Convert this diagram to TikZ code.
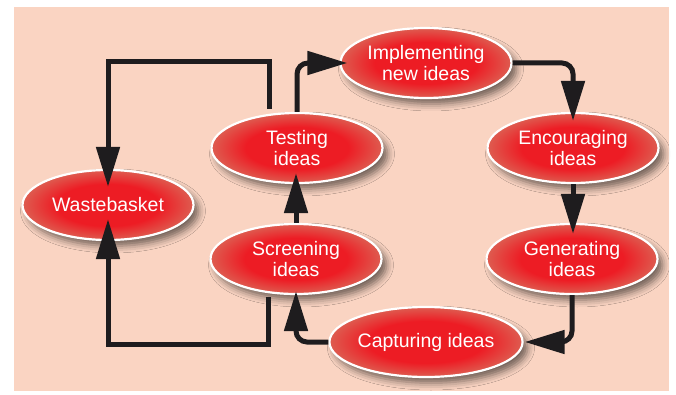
\documentclass[tikz,border=0pt]{standalone}
\usepackage{fontspec}
\setmainfont{Liberation Sans}
\usetikzlibrary{arrows.meta,shapes.geometric,shadows.blur}
\definecolor{peach}{RGB}{250,212,194}
\definecolor{ideared}{RGB}{237,28,36}
\definecolor{idearim}{RGB}{222,92,80}
\pgfdeclareradialshading{redglow}{\pgfpoint{0bp}{0bp}}{%
  color(0bp)=(ideared); color(15bp)=(ideared); color(25bp)=(idearim); color(50bp)=(idearim)}
\tikzset{
  idea/.style={ellipse, minimum width=171pt, minimum height=70pt, inner sep=0pt,
    shade, shading=redglow, draw=white, line width=2.2pt,
    blur shadow={shadow xshift=5pt, shadow yshift=-6pt, shadow blur radius=7pt, shadow opacity=55},
    text=white, align=center,
    font=\fontsize{19.5pt}{21pt}\selectfont},
  flow/.style={line width=5pt, draw={rgb,255:red,30;green,28;blue,30},
    -{Triangle[length=40pt,width=23pt]}},
  roundflow/.style={flow, rounded corners=11pt},
  loopflow/.style={flow, line join=miter}
}
\begin{document}
\begin{tikzpicture}[x=1pt,y=1pt]
  \useasboundingbox (0,0) rectangle (676,394);
  \fill[peach] (14,3) rectangle (669,387);

  % the idea cycle
  \node[idea] (waste) at (108,189) {Wastebasket};
  \node[idea] (test)  at (297,246) {Testing\\ideas};
  \node[idea] (impl)  at (426,331) {Implementing\\new ideas};
  \node[idea] (enc)   at (573,246) {Encouraging\\ideas};
  \node[idea] (gen)   at (572,135) {Generating\\ideas};
  \node[idea] (scr)   at (296,135) {Screening\\ideas};
  \node[idea] (cap)   at (426,52)  {Capturing ideas};

  % corners of the rejection loops
  \coordinate (loopT) at (108,332);
  \coordinate (loopB) at (108,50);

  % main cycle
  \draw[roundflow, shorten >=-8pt] (test.north) |- (impl.west);
  \draw[roundflow, shorten >=-9pt] (impl.east) -| (enc.north);
  \draw[flow, shorten >=-11pt] (enc.south) -- (enc.south |- gen.north);
  \draw[roundflow, shorten >=1pt] (gen.south) |- (cap.east);
  \draw[roundflow, shorten >=-4pt] (cap.west) -| (scr.south);
  \draw[flow, shorten >=-11pt] (scr.north) -- (scr.north |- test.south);

  % rejected ideas go to the wastebasket
  \draw[loopflow, shorten <=5pt, shorten >=-18pt] (test.129) |- (loopT) -- (waste.north);
  \draw[loopflow, shorten <=4pt, shorten >=-22pt] (scr.231) |- (loopB) -- (waste.south);
\end{tikzpicture}
\end{document}
